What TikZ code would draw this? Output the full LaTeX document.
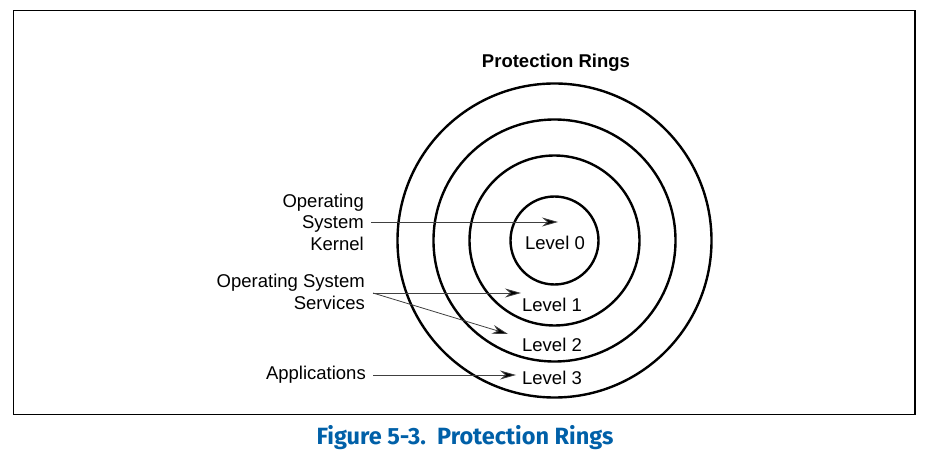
\documentclass[tikz,border=0pt]{standalone}
\usepackage{fontspec}
\setmainfont{Liberation Sans}
\newfontfamily\capfont{Fira Sans}
\usepackage{tikz}
\usetikzlibrary{arrows.meta, positioning}
\definecolor{figblue}{RGB}{0,96,168}
\tikzset{
	ring/.style={draw, circle, line width=2.4pt, inner sep=0pt}
}
\tikzset{
	lbltext/.style={font=\fontsize{18.5}{21.5}\selectfont, inner sep=0pt, align=right}
}
\tikzset{
	ptr/.style={draw=black!75, line width=0.8pt, -{Stealth[length=16pt,width=9pt,fill=black]}}
}
\newcommand{\lvl}[1]{Level #1}

\begin{document}
\begin{tikzpicture}[x=1pt, y=-1pt]
      \useasboundingbox (0,0) rectangle (930,457);
      \draw[line width=1.4pt] (13.5,10.5) rectangle (915,414.5);
      \node[font=\fontsize{18.5}{21.5}\selectfont\bfseries] (title) at (556,63) {Protection Rings};
      % the four rings, outer to inner
      \coordinate (ctr) at (554.5,240.5);
      \node[ring, minimum size=314pt] (ring3) at (ctr) {};
      \node[ring, minimum size=242pt] (ring2) at (ctr) {};
      \node[ring, minimum size=170pt] (ring1) at (ctr) {};
      \node[ring, minimum size=88pt] (ring0) at (ctr) {};
      \node[lbltext] (lvl0) at (555,243) {\lvl{0}};
      \node[lbltext] (lvl1) at (552,305) {\lvl{1}};
      \node[lbltext] (lvl2) at (552,345) {\lvl{2}};
      \node[lbltext] (lvl3) at (552,378) {\lvl{3}};
      % who lives in which ring
      \node[lbltext, anchor=east] (kernel) at (364,222) {Operating\\System\\Kernel};
      \node[lbltext, anchor=east] (services) at (365,292) {Operating System\\Services};
      \node[lbltext, anchor=east] (apps) at (366,375) {Applications};
      \coordinate (kernel-tip) at (558,222);
      \coordinate (svc1-tip) at (521,293);
      \coordinate (svc2-tip) at (508,334);
      \coordinate (apps-tip) at (516,375);
      \draw[ptr] (kernel.east |- kernel-tip) ++(7,0) -- (kernel-tip);
      \draw[ptr] (373,293) -- (svc1-tip);
      \draw[ptr] (373,293) -- (svc2-tip);
      \draw[ptr] (apps.east) ++(7,0) -- (apps-tip);
      \node[font=\capfont\fontsize{23.5}{28}\selectfont\bfseries, text=figblue] (caption) at (465,438) {Figure 5-3.\ \ Protection Rings};
    \end{tikzpicture}
\end{document}
